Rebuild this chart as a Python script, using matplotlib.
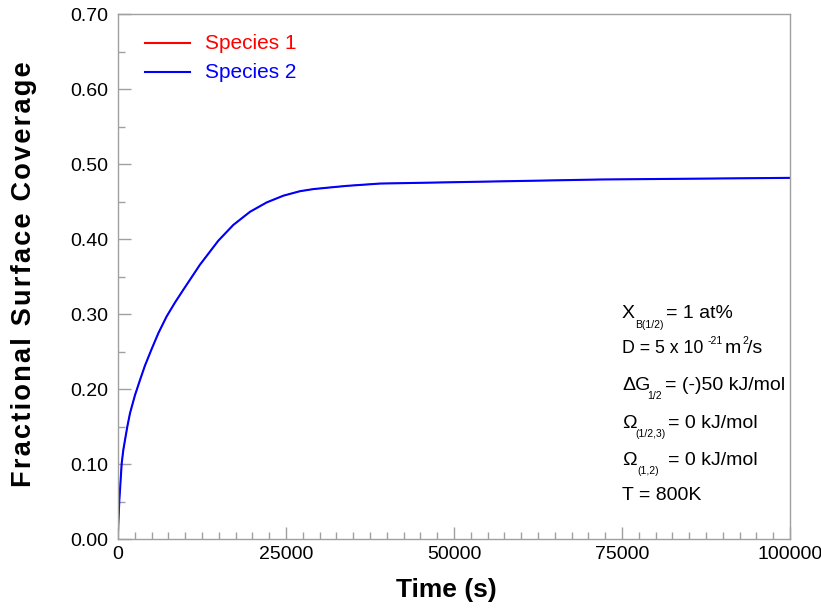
import matplotlib.pyplot as plt

plt.rcParams['font.family'] = ['Liberation Sans', 'DejaVu Sans']

# coverage vs time
time_s = [0, 200, 550, 794, 1040, 1389, 1790, 2530, 3270, 4018, 5010, 6000, 7240,
          8482, 9720, 12200, 14930, 17160, 19640, 22120, 24600, 27080, 29060,
          31550, 34030, 38990, 50000, 71700, 100000]
species2 = [0.010, 0.052, 0.101, 0.119, 0.132, 0.150, 0.168, 0.192, 0.212, 0.2315,
            0.2535, 0.2745, 0.297, 0.3155, 0.3325, 0.366, 0.398, 0.419, 0.4365,
            0.449, 0.458, 0.464, 0.4668, 0.469, 0.4711, 0.4742, 0.476, 0.4796,
            0.4818]
species1 = species2  # hidden under species 2 in the reference

xticks = [0, 25000, 50000, 75000, 100000]
yticks = [0.0, 0.1, 0.2, 0.3, 0.4, 0.5, 0.6, 0.7]

W, H = 821, 610
fig = plt.figure(figsize=(W / 100, H / 100), dpi=100)
ax = fig.add_axes([118 / W, 1 - 539 / H, (790 - 118) / W, (539 - 14.3) / H])


def px(x, y):
    return x / W, 1 - y / H


ax.plot(time_s, species1, color='#ff0000', lw=0.8)
ax.plot(time_s, species2, color='#0000ff', lw=1.5)

ax.set_xlim(0, 100000)
ax.set_ylim(0, 0.70)
ax.set_xticks(xticks)
ax.set_xticklabels([str(v) for v in xticks])
ax.set_yticks(yticks)
ax.set_yticklabels(['%.2f' % v for v in yticks])
ax.set_xticks(range(0, 100001, 2500), minor=True)
ax.set_yticks([i * 0.05 for i in range(15)], minor=True)

grey = '#a0a0a0'
for s in ax.spines.values():
    s.set_color(grey)
    s.set_linewidth(1.0)
ax.tick_params(which='both', direction='in', color=grey, labelsize=14,
               top=False, right=False)
ax.tick_params(which='major', length=9, width=1.0)
ax.tick_params(which='minor', length=5, width=1.0)
ax.tick_params(axis='y', pad=7)
ax.tick_params(axis='x', pad=5)

fig.text(*px(446, 590), 'Time (s)', fontsize=19, fontweight='bold',
         ha='center', va='center')
ylab = '\u200a'.join('Fractional Surface Coverage')
fig.text(*px(24, 274), ylab, fontsize=19.5,
         fontweight='bold', rotation=90, ha='center', va='center')

# legend drawn by hand to match placement
for yy, col, txt in [(43.3, '#ff0000', 'Species 1'), (72.3, '#0000ff', 'Species 2')]:
    fig.add_artist(plt.Line2D([145 / W, 190 / W], [1 - yy / H, 1 - yy / H],
                              color=col, lw=1.5))
    fig.text(*px(205, yy), txt, color=col, fontsize=15, va='center', ha='left')

# parameter block
big = 14
small = 7.5
fig.text(*px(622, 318), 'X', fontsize=big, va='baseline')
fig.text(*px(635, 327.7), 'B(1/2)', fontsize=small, va='baseline')
fig.text(*px(666, 318), '= 1 at%', fontsize=big, va='baseline')

fig.text(*px(622, 353), 'D = 5 x 10', fontsize=12.8, va='baseline')
fig.text(*px(708, 344), '-21', fontsize=small, va='baseline')
fig.text(*px(725, 353), 'm', fontsize=big, va='baseline')
fig.text(*px(742, 344), '2', fontsize=small, va='baseline')
fig.text(*px(747, 353), '/s', fontsize=big, va='baseline')

fig.text(*px(622, 390), '\u0394G', fontsize=big, va='baseline')
fig.text(*px(647, 399), '1/2', fontsize=small, va='baseline')
fig.text(*px(665, 390), '= (-)50 kJ/mol', fontsize=big, va='baseline')

fig.text(*px(622, 428), '\u03a9', fontsize=big, va='baseline')
fig.text(*px(635, 437), '(1/2,3)', fontsize=small, va='baseline')
fig.text(*px(668, 428), '= 0 kJ/mol', fontsize=big, va='baseline')

fig.text(*px(622, 465), '\u03a9', fontsize=big, va='baseline')
fig.text(*px(637, 474), '(1,2)', fontsize=small, va='baseline')
fig.text(*px(668, 465), '= 0 kJ/mol', fontsize=big, va='baseline')

fig.text(*px(622, 500), 'T = 800K', fontsize=big, va='baseline')

fig.savefig('out.png', dpi=100)
